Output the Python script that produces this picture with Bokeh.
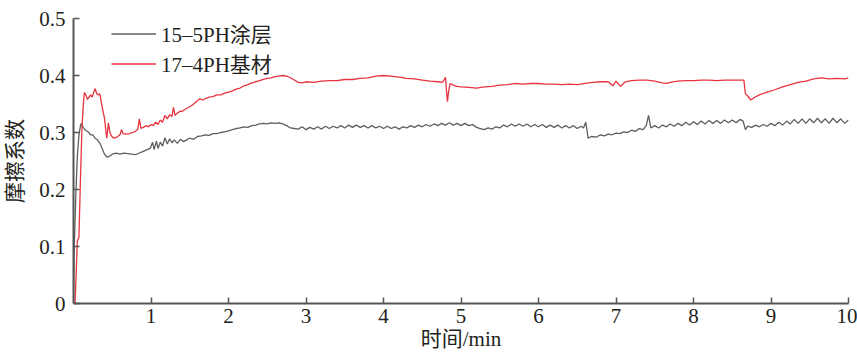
from bokeh.plotting import figure
from bokeh.models import FixedTicker, Legend, LegendItem, Range1d
from bokeh.embed import file_html
from bokeh.resources import INLINE

# ---------------- data ----------------
gray_t = [0.00, 0.01, 0.03, 0.05, 0.07, 0.09, 0.10, 0.13, 0.16, 0.19, 0.22, 0.25, 0.28, 0.31,
          0.34, 0.37, 0.40, 0.43, 0.46, 0.50, 0.55, 0.60, 0.65, 0.70, 0.75, 0.80, 0.85, 0.90,
          0.95, 0.99, 1.02, 1.04, 1.07, 1.09, 1.12, 1.15, 1.18, 1.21, 1.24, 1.27, 1.30, 1.34,
          1.38, 1.42, 1.46, 1.50, 1.55, 1.60, 1.65, 1.70, 1.75, 1.80, 1.85, 1.90, 1.95, 2.00,
          2.05, 2.10, 2.15, 2.20, 2.25, 2.30, 2.35, 2.40, 2.45, 2.50, 2.55, 2.60, 2.65, 2.70,
          2.75, 2.80, 2.85,
          2.90, 2.95, 3.00, 3.05, 3.10, 3.15, 3.20, 3.25, 3.30, 3.35, 3.40, 3.45, 3.50, 3.55,
          3.60, 3.65, 3.70, 3.75, 3.80, 3.85, 3.90, 3.95, 4.00, 4.05, 4.10, 4.15, 4.20, 4.25,
          4.30, 4.35, 4.40, 4.45, 4.50, 4.55, 4.60, 4.65, 4.70, 4.75, 4.80, 4.85, 4.90, 4.95,
          5.00, 5.05, 5.10, 5.15, 5.20, 5.25, 5.30, 5.35, 5.40, 5.45, 5.50, 5.55, 5.60, 5.65,
          5.70, 5.75, 5.80, 5.85, 5.90, 5.95, 6.00, 6.05, 6.10, 6.15, 6.20, 6.25, 6.30, 6.35,
          6.40, 6.45, 6.50, 6.55, 6.58, 6.61, 6.64, 6.68, 6.75, 6.80, 6.85, 6.90, 6.95, 7.00,
          7.05, 7.10, 7.15, 7.20, 7.25, 7.30, 7.35, 7.39, 7.42, 7.45, 7.50, 7.55, 7.60, 7.65,
          7.70, 7.75, 7.80, 7.85, 7.90, 7.95, 8.00, 8.05, 8.10, 8.15, 8.20, 8.25, 8.30, 8.35,
          8.40, 8.45, 8.50, 8.55, 8.60, 8.64, 8.67, 8.70, 8.75, 8.80, 8.85, 8.90, 8.95, 9.00,
          9.05, 9.10, 9.15, 9.20, 9.25, 9.30, 9.35, 9.40, 9.45, 9.50, 9.55, 9.60, 9.65, 9.70,
          9.75, 9.80, 9.85, 9.90, 9.95, 10.00]
gray_mu = [0.000, 0.100, 0.190, 0.260, 0.295, 0.312, 0.316, 0.308, 0.303, 0.301, 0.296, 0.296, 0.290, 0.287,
           0.281, 0.272, 0.262, 0.257, 0.258, 0.262, 0.264, 0.262, 0.264, 0.263, 0.262, 0.261, 0.264, 0.267,
           0.270, 0.272, 0.283, 0.270, 0.285, 0.272, 0.283, 0.276, 0.291, 0.280, 0.289, 0.282, 0.287, 0.281,
           0.288, 0.284, 0.287, 0.290, 0.288, 0.293, 0.294, 0.296, 0.295, 0.298, 0.298, 0.300, 0.301, 0.303,
           0.305, 0.307, 0.308, 0.310, 0.309, 0.312, 0.313, 0.315, 0.316, 0.315, 0.317, 0.316, 0.317, 0.315,
           0.312, 0.308, 0.307,
           0.306, 0.310, 0.305, 0.309, 0.306, 0.310, 0.306, 0.311, 0.307, 0.311, 0.308, 0.312, 0.308, 0.313,
           0.309, 0.313, 0.309, 0.312, 0.308, 0.312, 0.308, 0.311, 0.307, 0.311, 0.307, 0.310, 0.306, 0.310,
           0.308, 0.312, 0.309, 0.313, 0.310, 0.314, 0.311, 0.315, 0.312, 0.316, 0.313, 0.317, 0.313, 0.316,
           0.312, 0.316, 0.312, 0.314, 0.309, 0.307, 0.305, 0.308, 0.306, 0.310, 0.308, 0.313, 0.310, 0.315,
           0.311, 0.315, 0.311, 0.315, 0.310, 0.314, 0.310, 0.314, 0.309, 0.313, 0.309, 0.313, 0.308, 0.312,
           0.308, 0.312, 0.307, 0.311, 0.308, 0.318, 0.290, 0.293, 0.292, 0.296, 0.294, 0.297, 0.296, 0.299,
           0.298, 0.301, 0.300, 0.304, 0.302, 0.307, 0.305, 0.312, 0.330, 0.308, 0.312, 0.308, 0.313, 0.310,
           0.315, 0.311, 0.316, 0.312, 0.318, 0.313, 0.319, 0.314, 0.320, 0.315, 0.321, 0.316, 0.321, 0.316,
           0.322, 0.317, 0.322, 0.317, 0.323, 0.320, 0.305, 0.311, 0.309, 0.313, 0.310, 0.314, 0.311, 0.316,
           0.312, 0.318, 0.313, 0.320, 0.315, 0.323, 0.316, 0.324, 0.316, 0.324, 0.317, 0.325, 0.317, 0.324,
           0.316, 0.325, 0.317, 0.324, 0.316, 0.322]

red_t = [0.02, 0.05, 0.07, 0.09, 0.11, 0.13, 0.14, 0.16, 0.18, 0.20, 0.22, 0.24, 0.26, 0.28,
         0.30, 0.32, 0.34, 0.36, 0.38, 0.40, 0.42, 0.43, 0.45, 0.47, 0.49, 0.52, 0.56, 0.60,
         0.62, 0.64, 0.68, 0.72, 0.76, 0.80, 0.83, 0.85, 0.87, 0.90, 0.94, 0.97, 1.00, 1.03,
         1.06, 1.09, 1.12, 1.15, 1.18, 1.21, 1.24, 1.27, 1.29, 1.31, 1.34, 1.37, 1.40, 1.43,
         1.47, 1.51, 1.55, 1.59, 1.63, 1.67, 1.71, 1.75, 1.80, 1.85, 1.90, 1.95, 2.00, 2.05,
         2.10, 2.15, 2.20, 2.25, 2.30, 2.35, 2.40, 2.45, 2.50, 2.55, 2.60, 2.65, 2.70, 2.75,
         2.80, 2.85, 2.90, 2.95, 3.00, 3.10, 3.20, 3.30, 3.40, 3.50, 3.60, 3.70, 3.80, 3.90,
         4.00, 4.10, 4.20, 4.30, 4.40, 4.50, 4.60, 4.70, 4.76, 4.78, 4.80, 4.815, 4.825, 4.84,
         4.86, 4.90, 4.95, 5.00, 5.10, 5.20, 5.30, 5.40, 5.50, 5.60, 5.70, 5.80, 5.90, 6.00,
         6.10, 6.20, 6.30, 6.40, 6.50, 6.60, 6.70, 6.80, 6.90, 6.96, 7.00, 7.06, 7.12, 7.20,
         7.30, 7.40, 7.50, 7.60, 7.65, 7.70, 7.80, 7.90, 8.00, 8.10, 8.20, 8.30, 8.40, 8.50,
         8.60, 8.65, 8.67, 8.70, 8.74, 8.78, 8.85, 8.95, 9.05, 9.15, 9.25, 9.35, 9.45, 9.55,
         9.65, 9.75, 9.85, 9.95, 10.00]
red_mu = [0.000, 0.110, 0.116, 0.220, 0.310, 0.355, 0.370, 0.366, 0.358, 0.362, 0.366, 0.362, 0.370, 0.377,
          0.368, 0.366, 0.368, 0.352, 0.338, 0.325, 0.300, 0.290, 0.317, 0.300, 0.294, 0.290, 0.292, 0.296,
          0.305, 0.298, 0.297, 0.298, 0.300, 0.302, 0.306, 0.324, 0.307, 0.309, 0.312, 0.310, 0.314, 0.312,
          0.318, 0.314, 0.322, 0.318, 0.330, 0.324, 0.331, 0.328, 0.344, 0.330, 0.334, 0.337, 0.337, 0.340,
          0.343, 0.346, 0.350, 0.355, 0.359, 0.357, 0.360, 0.362, 0.363, 0.366, 0.366, 0.369, 0.371, 0.373,
          0.376, 0.378, 0.382, 0.384, 0.387, 0.389, 0.391, 0.393, 0.395, 0.396, 0.398, 0.399, 0.400, 0.399,
          0.396, 0.392, 0.388, 0.387, 0.389, 0.388, 0.390, 0.391, 0.391, 0.393, 0.393, 0.395, 0.396, 0.399,
          0.400, 0.399, 0.397, 0.395, 0.394, 0.392, 0.390, 0.389, 0.388, 0.392, 0.397, 0.370, 0.354, 0.372,
          0.386, 0.383, 0.381, 0.380, 0.379, 0.378, 0.380, 0.381, 0.383, 0.384, 0.386, 0.385, 0.386, 0.386,
          0.385, 0.385, 0.384, 0.385, 0.384, 0.386, 0.388, 0.389, 0.389, 0.382, 0.390, 0.381, 0.389, 0.391,
          0.392, 0.392, 0.390, 0.387, 0.386, 0.388, 0.390, 0.391, 0.391, 0.392, 0.392, 0.391, 0.392, 0.392,
          0.392, 0.392, 0.368, 0.364, 0.357, 0.361, 0.366, 0.371, 0.375, 0.380, 0.384, 0.388, 0.390, 0.394,
          0.396, 0.394, 0.395, 0.394, 0.396]

series_names = ["15\u20135PH涂层", "17\u20134PH基材"]
x_ticks = [1, 2, 3, 4, 5, 6, 7, 8, 9, 10]
y_ticks = [0, 0.1, 0.2, 0.3, 0.4, 0.5]
x_label = "时间/min"
y_label = "摩擦系数"

# ---------------- styling ----------------
FONT = "Liberation Serif, Noto Sans CJK SC"
FS = "21px"
AXIS_COLOR = "#555555"
TEXT_COLOR = "#231f20"

p = figure(width=857, height=353, output_backend="svg", toolbar_location=None,
           x_range=Range1d(0, 10), y_range=Range1d(0, 0.5),
           min_border_left=72, min_border_right=9, min_border_top=18, min_border_bottom=50)
p.outline_line_color = None
p.xgrid.visible = False
p.ygrid.visible = False

l1 = p.line(gray_t, gray_mu, line_color="#5e5e5e", line_width=1.3)
l2 = p.line(red_t, red_mu, line_color="#e8333f", line_width=1.3)

for ax in (p.xaxis[0], p.yaxis[0]):
    ax.axis_line_color = AXIS_COLOR
    ax.axis_line_width = 2
    ax.major_tick_line_color = AXIS_COLOR
    ax.major_tick_line_width = 1.5
    ax.major_tick_in = 6
    ax.major_tick_out = 0
    ax.minor_tick_line_color = None
    ax.major_label_text_font = FONT
    ax.major_label_text_font_size = FS
    ax.major_label_text_color = TEXT_COLOR
    ax.axis_label_text_font = FONT
    ax.axis_label_text_font_size = FS
    ax.axis_label_text_font_style = "normal"
    ax.axis_label_text_color = TEXT_COLOR

p.xaxis.ticker = FixedTicker(ticks=x_ticks)
p.yaxis.ticker = FixedTicker(ticks=y_ticks)
p.yaxis.major_label_overrides = {0: "0"}
p.xaxis.axis_label = x_label
p.yaxis.axis_label = y_label
p.xaxis.major_label_standoff = 5
p.xaxis.axis_label_standoff = 1
p.yaxis.major_label_standoff = 8
p.yaxis.axis_label_standoff = 9

legend = Legend(items=[LegendItem(label=series_names[0], renderers=[l1]),
                       LegendItem(label=series_names[1], renderers=[l2])],
                location=(38, 225))
legend.border_line_color = None
legend.background_fill_alpha = 0
legend.padding = 0
legend.margin = 0
legend.spacing = 0
legend.glyph_width = 45
legend.glyph_height = 23
legend.label_standoff = 5
legend.label_text_font = FONT
legend.label_text_font_size = FS
legend.label_text_color = TEXT_COLOR
p.add_layout(legend, "center")

open("out.html", "w").write(file_html(p, INLINE))
